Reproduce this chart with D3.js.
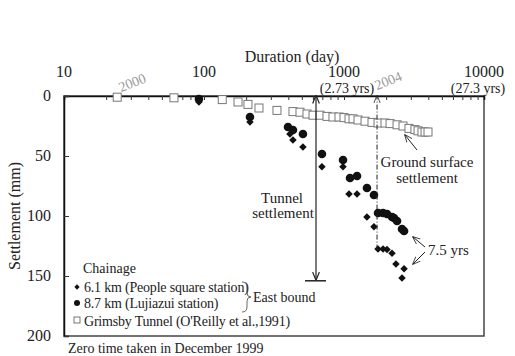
<!DOCTYPE html>
<html>
<head>
<meta charset="utf-8">
<script src="https://cdn.jsdelivr.net/npm/d3@7"></script>
<style>
  body { margin: 0; background: #fff; }
</style>
</head>
<body>
<div id="chart"></div>
<script>
// Grimsby Tunnel (O'Reilly et al., 1991)
const grimsbyDays = [24, 61, 135, 175, 206, 247, 332, 432, 485, 544, 601, 674, 756, 834, 921, 1000, 1086, 1160, 1259, 1413, 1585, 1750, 1963, 2133, 2393, 2639, 2911, 3212, 3380, 3605, 3793, 3981];
const grimsbySettle = [1, 1.5, 3, 5, 7, 10, 12, 13, 13.5, 15, 16, 16, 17, 17.5, 17.5, 18, 19, 19, 20, 21, 22, 22.5, 22.5, 23, 24, 25, 27, 28, 29, 30, 30, 30];

// 6.1 km (People square station)
const peopleDays = [92, 213, 411, 432, 509, 696, 984, 1086, 1239, 1459, 1637, 1750, 1901, 2029, 2203, 2350, 2685, 2596];
const peopleSettle = [5, 21.7, 31.7, 36.7, 42.5, 59, 59, 81.7, 81.7, 100.8, 109, 127.5, 127.5, 128, 131, 140, 144, 151.7];

// 8.7 km (Lujiazui station)
const lujiaDays = [92, 213, 398, 432, 509, 696, 984, 1104, 1239, 1459, 1637, 1750, 1901, 2029, 2203, 2276, 2393, 2596, 2685];
const lujiaSettle = [2.5, 17.5, 25.8, 28.3, 31.7, 48.3, 53.3, 68.3, 66.7, 76.7, 82.5, 97.5, 97.5, 98.3, 100.8, 101.7, 104.2, 110.8, 112.5];

const xTicks = [10, 100, 1000, 10000];
const yTicks = [0, 50, 100, 150, 200];

const width = 515, height = 356;
const margin = { top: 96, right: 31, bottom: 20, left: 64 };
const serif = "'Liberation Serif', 'Times New Roman', 'DejaVu Serif', serif";

const svg = d3.select("#chart").append("svg")
  .attr("width", width).attr("height", height)
  .attr("font-family", serif)
  .style("font-family", serif);

const x = d3.scaleLog().domain([10, 10000]).range([margin.left, width - margin.right]);
const y = d3.scaleLinear().domain([0, 200]).range([margin.top, height - margin.bottom]);

const defs = svg.append("defs");
defs.append("marker").attr("id", "arr").attr("viewBox", "0 0 10 10")
  .attr("refX", 9).attr("refY", 5).attr("markerWidth", 7).attr("markerHeight", 7)
  .attr("orient", "auto-start-reverse")
  .append("path").attr("d", "M0,1 L10,5 L0,9").attr("fill", "none").attr("stroke", "#222").attr("stroke-width", 1.4);
defs.append("marker").attr("id", "arrS").attr("viewBox", "0 0 10 10")
  .attr("refX", 9).attr("refY", 5).attr("markerWidth", 8).attr("markerHeight", 8)
  .attr("orient", "auto-start-reverse")
  .append("path").attr("d", "M0,1 L10,5 L0,9").attr("fill", "none").attr("stroke", "#222").attr("stroke-width", 1);

// frame
svg.append("rect")
  .attr("x", x(10)).attr("y", y(0))
  .attr("width", x(10000) - x(10)).attr("height", y(200) - y(0))
  .attr("fill", "none").attr("stroke", "#444").attr("stroke-width", 1.5);

// top axis (inward ticks)
const minorTicks = d3.range(1, 4).flatMap(e => d3.range(1, 10).map(m => m * Math.pow(10, e)));
const xAxis = d3.axisBottom(x).tickValues(minorTicks).tickSize(4).tickFormat("");
const gx = svg.append("g").attr("transform", `translate(0,${y(0)})`).call(xAxis);
gx.select(".domain").attr("stroke", "#111").attr("stroke-width", 1.5);
gx.selectAll(".tick line").attr("stroke", "#333");

svg.selectAll(".xlab").data(xTicks).enter().append("text")
  .attr("x", d => x(d)).attr("y", 77)
  .attr("text-anchor", "middle").attr("font-size", 16).attr("fill", "#222").text(d => d);

svg.append("text").attr("x", 292).attr("y", 62).attr("text-anchor", "middle")
  .attr("font-size", 16).attr("fill", "#222").text("Duration (day)");
svg.append("text").attr("x", x(1000) + 3).attr("y", 93).attr("text-anchor", "middle")
  .attr("font-size", 14).attr("fill", "#222").text("(2.73 yrs)");
svg.append("text").attr("x", 478).attr("y", 93).attr("text-anchor", "middle")
  .attr("font-size", 14).attr("fill", "#222").text("(27.3 yrs)");

// left axis (inward ticks)
const yAxis = d3.axisRight(y).tickValues(yTicks).tickSize(5).tickFormat("");
const gy = svg.append("g").attr("transform", `translate(${x(10)},0)`).call(yAxis);
gy.select(".domain").attr("stroke", "#111").attr("stroke-width", 1.5);
gy.selectAll(".tick line").attr("stroke", "#333");

svg.selectAll(".ylab").data(yTicks).enter().append("text")
  .attr("x", 51).attr("y", d => y(d) + 5)
  .attr("text-anchor", "end").attr("font-size", 16).attr("fill", "#222").text(d => d);

svg.append("text").attr("transform", `translate(20,${(y(0) + y(200)) / 2}) rotate(-90)`)
  .attr("text-anchor", "middle").attr("font-size", 16).attr("fill", "#222").text("Settlement (mm)");

// year labels
svg.append("text").attr("transform", `translate(134,87) rotate(-22)`)
  .attr("text-anchor", "middle").attr("font-size", 14).attr("fill", "#999").text("2000");
svg.append("text").attr("transform", `translate(390,85) rotate(-22)`)
  .attr("text-anchor", "middle").attr("font-size", 14).attr("fill", "#999").text("2004");

// Grimsby squares
const grimsby = grimsbyDays.map((d, i) => [d, grimsbySettle[i]]);
svg.selectAll(".sq").data(grimsby).enter().append("rect")
  .attr("x", d => x(d[0]) - 4).attr("y", d => y(d[1]) - 4)
  .attr("width", 8).attr("height", 8)
  .attr("fill", "#fff").attr("stroke", "#777").attr("stroke-width", 1);

// Lujiazui circles
const lujia = lujiaDays.map((d, i) => [d, lujiaSettle[i]]);
svg.selectAll(".ci").data(lujia).enter().append("circle")
  .attr("cx", d => x(d[0])).attr("cy", d => y(d[1])).attr("r", 4.3)
  .attr("fill", "#111");

// People square diamonds
const people = peopleDays.map((d, i) => [d, peopleSettle[i]]);
svg.selectAll(".di").data(people).enter().append("path")
  .attr("transform", d => `translate(${x(d[0])},${y(d[1])}) rotate(45)`)
  .attr("d", d3.symbol().type(d3.symbolSquare).size(28))
  .attr("fill", "#111");

// tunnel settlement arrow
svg.append("line").attr("x1", x(631)).attr("x2", x(631)).attr("y1", y(153)).attr("y2", y(0))
  .attr("stroke", "#222").attr("stroke-width", 1.2)
  .attr("marker-start", "url(#arr)").attr("marker-end", "url(#arr)");
svg.append("line").attr("x1", x(631) - 11).attr("x2", x(631) + 10).attr("y1", y(154)).attr("y2", y(154))
  .attr("stroke", "#222").attr("stroke-width", 1.5);
svg.append("text").attr("x", 282).attr("y", 203).attr("text-anchor", "middle").attr("font-size", 15).attr("fill", "#222").text("Tunnel");
svg.append("text").attr("x", 283).attr("y", 218).attr("text-anchor", "middle").attr("font-size", 15).attr("fill", "#222").text("settlement");

// dash-dot line (2004)
svg.append("line").attr("x1", x(1722)).attr("x2", x(1722)).attr("y1", y(128)).attr("y2", y(0))
  .attr("stroke", "#222").attr("stroke-width", 1)
  .attr("stroke-dasharray", "5,2,1,2")
  .attr("marker-end", "url(#arrS)");

// ground surface settlement
svg.append("text").attr("x", 427).attr("y", 167).attr("text-anchor", "middle").attr("font-size", 15).attr("fill", "#222").text("Ground surface");
svg.append("text").attr("x", 427).attr("y", 183).attr("text-anchor", "middle").attr("font-size", 15).attr("fill", "#222").text("settlement");
svg.append("line").attr("x1", 417).attr("y1", 150).attr("x2", 405).attr("y2", 135)
  .attr("stroke", "#222").attr("stroke-width", 1).attr("marker-end", "url(#arrS)");

// 7.5 yrs
svg.append("text").attr("x", 428).attr("y", 255).attr("font-size", 15).attr("fill", "#222").text("7.5 yrs");
svg.append("line").attr("x1", 425).attr("y1", 247).attr("x2", 413).attr("y2", 237)
  .attr("stroke", "#222").attr("stroke-width", 1).attr("marker-end", "url(#arrS)");
svg.append("line").attr("x1", 425).attr("y1", 252).attr("x2", 413).attr("y2", 264)
  .attr("stroke", "#222").attr("stroke-width", 1).attr("marker-end", "url(#arrS)");

// legend
const lg = svg.append("g").attr("fill", "#222");
lg.append("text").attr("x", 83).attr("y", 273).attr("font-size", 14).text("Chainage");
lg.append("path").attr("transform", "translate(77,287) rotate(45)")
  .attr("d", d3.symbol().type(d3.symbolSquare).size(14)).attr("fill", "#111");
lg.append("text").attr("x", 84).attr("y", 292).attr("font-size", 14).attr("letter-spacing", -0.2).text("6.1 km (People square station)");
lg.append("circle").attr("cx", 77).attr("cy", 303).attr("r", 3).attr("fill", "#111");
lg.append("text").attr("x", 84).attr("y", 308).attr("font-size", 14).attr("letter-spacing", -0.2).text("8.7 km (Lujiazui station)");
lg.append("rect").attr("x", 74).attr("y", 317).attr("width", 6).attr("height", 6)
  .attr("fill", "#fff").attr("stroke", "#777");
lg.append("text").attr("x", 84).attr("y", 326).attr("font-size", 14).attr("letter-spacing", -0.2).text("Grimsby Tunnel (O'Reilly et al.,1991)");
lg.append("path")
  .attr("d", "M242,282 Q247,282 247,287 L247,293 Q247,297 251,297 Q247,297 247,301 L247,307 Q247,312 242,312")
  .attr("fill", "none").attr("stroke", "#444").attr("stroke-width", 0.8);
lg.append("text").attr("x", 253).attr("y", 302).attr("font-size", 14).text("East bound");

svg.append("text").attr("x", 68).attr("y", 353).attr("font-size", 14).attr("fill", "#222").text("Zero time taken in December 1999");
</script>
</body>
</html>
